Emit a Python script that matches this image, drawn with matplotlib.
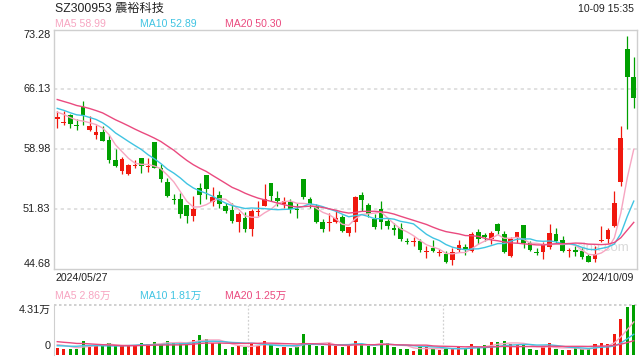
import numpy as np
import pandas as pd
import matplotlib
matplotlib.use("Agg")
import matplotlib.pyplot as plt

plt.rcParams['font.family'] = ['Liberation Sans', 'Noto Sans CJK SC', 'DejaVu Sans']

# ---------------- data ----------------
title = "SZ300953 震裕科技"
timestamp = "10-09 15:35"
date_labels = ["2024/05/27", "2024/10/09"]
price_ticks = [44.68, 51.83, 58.98, 66.13, 73.28]
vol_max = 4.31
ma_price_labels = ["MA5 58.99", "MA10 52.89", "MA20 50.30"]
ma_vol_labels = ["MA5 2.86万", "MA10 1.81万", "MA20 1.25万"]

opens = [62.60, 62.05, 63.00, 61.90, 64.00, 61.22, 60.62, 61.00, 60.03, 57.61,
         56.33, 55.94, 56.98, 57.85, 56.84, 59.79, 56.66, 55.02, 52.92, 52.96,
         52.25, 50.97, 54.36, 55.82, 52.64, 53.44, 52.16, 51.69, 50.19, 50.70,
         49.39, 51.40, 52.16, 54.95, 53.16, 52.37, 52.64, 51.85, 55.43, 53.05,
         52.16, 50.19, 50.12, 50.19, 50.85, 48.90, 50.24, 53.43, 52.24, 50.57,
         51.84, 50.36, 49.58, 49.58, 47.95, 47.85, 47.98, 46.62, 47.19, 46.48,
         46.40, 45.72, 46.91, 47.27, 46.79, 49.10, 48.66, 48.26, 50.05, 48.78,
         46.12, 48.27, 49.85, 47.79, 46.67, 46.67, 47.31, 48.78, 48.06, 46.75,
         46.87, 46.79, 46.12, 45.76, 47.95, 48.20, 49.79, 55.08, 70.97, 67.55]
highs = [63.49, 63.50, 63.20, 62.60, 64.68, 62.89, 61.82, 61.70, 60.60, 59.00,
         58.00, 57.24, 57.69, 57.85, 57.85, 59.80, 57.13, 55.55, 53.56, 53.76,
         52.25, 53.35, 54.95, 55.82, 54.48, 53.95, 52.56, 52.48, 51.45, 51.45,
         51.85, 52.76, 54.75, 54.95, 53.95, 53.28, 52.96, 52.48, 55.43, 53.28,
         52.37, 50.66, 51.38, 51.57, 51.05, 49.65, 53.34, 53.87, 52.56, 51.16,
         52.75, 50.77, 50.09, 50.09, 48.30, 48.39, 48.18, 47.38, 48.10, 47.07,
         46.79, 47.19, 48.06, 47.59, 49.05, 49.37, 48.98, 49.17, 50.17, 49.17,
         48.39, 49.05, 49.85, 47.98, 47.19, 47.86, 49.97, 49.58, 48.58, 47.19,
         47.38, 47.19, 46.39, 47.38, 49.79, 49.51, 53.96, 61.71, 72.52, 69.93]
lows = [61.50, 61.90, 61.50, 61.30, 61.90, 61.10, 60.20, 59.90, 57.33, 56.81,
        55.94, 55.86, 56.66, 56.06, 56.22, 56.66, 55.02, 53.23, 52.36, 50.78,
        50.18, 50.38, 52.36, 53.05, 52.16, 51.97, 51.29, 50.10, 49.07, 48.99,
        48.59, 50.97, 52.10, 52.76, 52.16, 51.97, 51.29, 50.78, 53.05, 51.97,
        50.10, 49.07, 49.19, 50.10, 49.07, 48.58, 49.05, 51.56, 50.89, 49.46,
        49.37, 49.37, 48.66, 47.98, 47.59, 47.40, 46.67, 45.88, 46.60, 46.13,
        45.33, 45.09, 46.60, 46.28, 46.67, 47.59, 47.98, 47.59, 48.78, 46.51,
        46.00, 47.71, 47.19, 46.79, 46.27, 45.87, 46.99, 47.59, 46.67, 46.00,
        46.19, 45.87, 45.40, 45.40, 47.81, 47.69, 49.60, 54.56, 61.40, 63.90]
closes = [62.75, 62.15, 62.00, 61.70, 63.00, 61.78, 61.03, 59.99, 57.65, 56.93,
          57.73, 57.01, 57.10, 56.93, 56.92, 56.74, 55.35, 53.35, 52.84, 51.17,
          50.97, 51.85, 53.44, 54.15, 53.28, 52.40, 51.57, 50.38, 51.17, 49.39,
          51.57, 51.50, 53.05, 53.36, 52.76, 52.76, 51.85, 51.69, 53.28, 52.37,
          50.26, 49.39, 50.24, 50.78, 49.20, 49.65, 53.22, 52.87, 51.16, 49.65,
          50.24, 49.77, 49.29, 48.18, 47.85, 47.95, 46.91, 46.72, 46.79, 46.56,
          45.48, 46.60, 47.47, 46.87, 48.78, 48.18, 48.50, 48.98, 49.17, 46.67,
          48.18, 49.05, 47.79, 46.91, 46.51, 47.59, 48.90, 47.98, 46.79, 46.85,
          46.71, 46.07, 45.48, 46.39, 48.05, 49.28, 52.49, 60.32, 67.55, 65.10]
volumes = [0.63, 0.52, 0.55, 0.55, 1.21, 0.86, 0.86, 0.78, 1.03, 0.78,
           0.80, 0.75, 0.80, 1.03, 0.92, 1.15, 0.92, 1.23, 1.03, 1.06,
           1.00, 1.32, 1.72, 1.38, 1.06, 1.00, 0.52, 0.72, 0.80, 0.72,
           0.98, 0.80, 1.21, 0.86, 0.63, 0.69, 0.63, 0.72, 1.81, 0.92,
           0.80, 0.80, 1.01, 0.80, 0.69, 0.80, 1.21, 0.92, 0.80, 0.69,
           1.29, 1.01, 0.69, 0.52, 0.52, 0.34, 0.69, 0.69, 0.52, 0.43,
           0.57, 0.52, 0.69, 0.52, 0.95, 0.63, 0.86, 1.09, 1.12, 1.21,
           0.92, 0.86, 0.92, 0.52, 0.43, 0.69, 1.01, 0.52, 0.43, 0.43,
           0.63, 0.52, 0.52, 0.95, 1.01, 0.92, 1.81, 3.10, 4.11, 4.31]
# sessions before the visible window (only used to seed the moving averages)
prior_closes = [66.8, 66.5, 66.9, 66.2, 65.8, 66.0, 65.5, 65.9, 65.2, 64.8,
                64.5, 64.9, 64.2, 63.8, 64.1, 63.5, 63.9, 63.2, 63.6]
prior_volumes = [1.6, 1.4, 1.7, 1.3, 1.5, 1.6, 1.4, 1.5, 1.3, 1.7,
                 0.7, 0.8, 0.6, 0.7, 0.7, 0.9, 1.0, 1.1, 0.87]

# ---------------- style ----------------
RED = '#f0180e'
GREEN = '#00a000'
MA_COLORS = ['#f7a5c1', '#40c4e2', '#ea4a7f']
GRID = '#dcdcdc'
BORDER = '#cfcfcf'
TXT = '#222222'

o = np.array(opens); h = np.array(highs); l = np.array(lows); c = np.array(closes)
v = np.array(volumes)
n = len(c)
x = np.arange(n)
up = c >= o
cols = np.where(up, RED, GREEN)

npc = len(prior_closes)
full_c = pd.Series(prior_closes + closes)
full_v = pd.Series(prior_volumes + volumes)
ma_p = {k: full_c.rolling(k).mean().values[npc:] for k in (5, 10, 20)}
ma_v = {k: full_v.rolling(k).mean().values[len(prior_volumes):] for k in (5, 10, 20)}

W, H = 640, 360
fig = plt.figure(figsize=(6.4, 3.6), dpi=100)
L, R = 54, 637
T1, B1 = 29.5, 268.5
T2, B2 = 305, 355
ax = fig.add_axes([L / W, 1 - B1 / H, (R - L) / W, (B1 - T1) / H])
axv = fig.add_axes([L / W, 1 - B2 / H, (R - L) / W, (B2 - T2) / H])

# ----- main panel -----
ax.set_xlim(-0.5, n - 0.5)
ax.set_ylim(price_ticks[0], price_ticks[-1])
for s in ax.spines.values():
    s.set_color(BORDER); s.set_linewidth(1.0)
ax.set_xticks([]); ax.set_yticks([])
for t in price_ticks[1:-1]:
    ax.axhline(t, color=GRID, lw=1.2, ls=(0, (2, 2)), zorder=0)

ax.text(0.942, 0.085, 'sina.com', transform=ax.transAxes, ha='center', va='center',
        fontsize=9.5, color='#d9d9d9', zorder=0.5)

ax.vlines(x, l, h, colors=cols, lw=0.9, zorder=2)
body_b = np.minimum(o, c)
body_h = np.maximum(np.abs(c - o), 0.12)
ax.bar(x, body_h, bottom=body_b, width=0.72, color=cols, linewidth=0, zorder=3)

for k, col in zip((5, 10, 20), MA_COLORS):
    ax.plot(x, ma_p[k], color=col, lw=1.0, zorder=4)

ytrans = ax.get_yaxis_transform()
for i, t in enumerate(price_ticks):
    va = 'bottom' if i == 0 else ('top' if i == len(price_ticks) - 1 else 'center')
    off = 0.6 if i == 0 else (-0.9 if i == len(price_ticks) - 1 else 0)
    ax.text(-0.006, t + off * 0, f"{t:.2f}", transform=ytrans, ha='right', va=va,
            fontsize=7.8, color=TXT)

# ----- volume panel -----
axv.set_xlim(-0.5, n - 0.5)
axv.set_ylim(0, vol_max)
axv.set_xticks([]); axv.set_yticks([])
for side in ('right', 'bottom', 'top'):
    axv.spines[side].set_visible(False)
axv.spines['left'].set_color(BORDER)
axv.axhline(vol_max, color='#c8c8c8', lw=1.2, ls=(0, (1.5, 1.5)), clip_on=False)
for frac in (1 / 3, 2 / 3):
    axv.axvline(-0.5 + n * frac, color='#d0d0d0', lw=0.9, ls=(0, (1.5, 1.5)), zorder=0)
axv.bar(x, v, width=0.5, color=cols, linewidth=0, zorder=2)
for k, col in zip((5, 10, 20), MA_COLORS):
    axv.plot(x, ma_v[k], color=col, lw=1.0, zorder=3)
vtrans = axv.get_yaxis_transform()
axv.text(-0.006, vol_max, f"{vol_max:.2f}万", transform=vtrans, ha='right', va='top',
         fontsize=7.8, color=TXT)
axv.text(-0.006, 0.35, "0", transform=vtrans, ha='right', va='bottom',
         fontsize=7.8, color=TXT)

# ----- header texts -----
fig.text(55 / W, 1 - 8.5 / H, title, ha='left', va='center', fontsize=8.8, color=TXT)
fig.text(634 / W, 1 - 8.5 / H, timestamp, ha='right', va='center', fontsize=7.6, color=TXT)
for lab, col, xp in zip(ma_price_labels, MA_COLORS, (55, 140, 225)):
    fig.text(xp / W, 1 - 24 / H, lab, ha='left', va='center', fontsize=7.6, color=col)
fig.text(55 / W, 1 - 278 / H, date_labels[0], ha='left', va='center', fontsize=7.6, color=TXT)
fig.text(634 / W, 1 - 278 / H, date_labels[1], ha='right', va='center', fontsize=7.6, color=TXT)
for lab, col, xp in zip(ma_vol_labels, MA_COLORS, (55, 140, 225)):
    fig.text(xp / W, 1 - 296 / H, lab, ha='left', va='center', fontsize=7.6, color=col)

fig.savefig('out.png', dpi=100)
